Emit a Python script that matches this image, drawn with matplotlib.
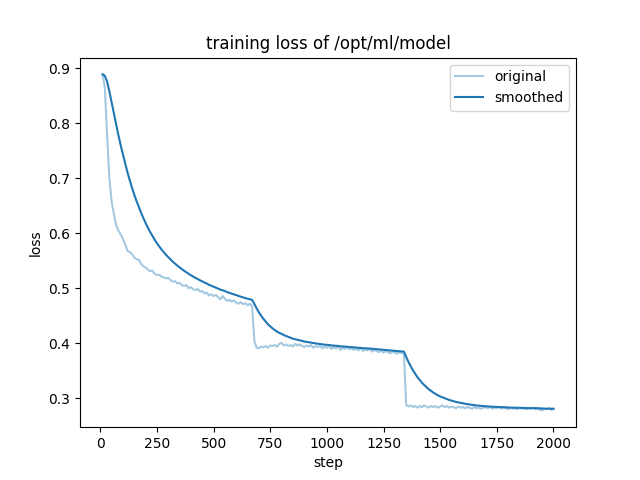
"""
Training loss curve with an EMA-smoothed overlay.
"""

import math

import matplotlib
matplotlib.use("Agg")
import matplotlib.pyplot as plt

MODEL_DIR = "/opt/ml/model"

# logged every 10 steps
steps = list(range(10, 2001, 10))

# ── epoch 1 (steps 10-680) ───────────────────────────────────────────────────
loss_epoch1 = [
    0.889, 0.865, 0.780, 0.700, 0.658, 0.635, 0.615, 0.605, 0.598, 0.590,
    0.580, 0.568, 0.566, 0.562, 0.556, 0.553, 0.552, 0.545, 0.540, 0.538,
    0.534, 0.531, 0.532, 0.526, 0.524, 0.525, 0.521, 0.520, 0.518, 0.519,
    0.515, 0.512, 0.513, 0.509, 0.510, 0.506, 0.504, 0.506, 0.500, 0.502,
    0.498, 0.497, 0.499, 0.494, 0.495, 0.491, 0.492, 0.487, 0.489, 0.486,
    0.488, 0.484, 0.480, 0.486, 0.481, 0.477, 0.479, 0.476, 0.478, 0.474,
    0.472, 0.475, 0.471, 0.473, 0.469, 0.472, 0.468, 0.405,
]

# ── epoch 2 (steps 690-1340) ─────────────────────────────────────────────────
loss_epoch2 = [
    0.392, 0.391, 0.394, 0.393, 0.395, 0.392, 0.396, 0.395, 0.397, 0.394,
    0.399, 0.401, 0.396, 0.398, 0.395, 0.397, 0.394, 0.399, 0.396, 0.398,
    0.395, 0.393, 0.396, 0.394, 0.397, 0.392, 0.395, 0.393, 0.396, 0.391,
    0.394, 0.392, 0.395, 0.390, 0.393, 0.391, 0.394, 0.388, 0.392, 0.390,
    0.393, 0.389, 0.391, 0.388, 0.390, 0.387, 0.391, 0.386, 0.389, 0.387,
    0.390, 0.385, 0.388, 0.386, 0.384, 0.387, 0.383, 0.386, 0.384, 0.382,
    0.385, 0.383, 0.381, 0.384, 0.382, 0.382,
]

# ── epoch 3 (steps 1350-2000) ────────────────────────────────────────────────
loss_epoch3 = [
    0.288, 0.285, 0.287, 0.284, 0.286, 0.283, 0.286, 0.284, 0.287, 0.285,
    0.283, 0.286, 0.284, 0.286, 0.283, 0.285, 0.287, 0.284, 0.286, 0.283,
    0.285, 0.284, 0.282, 0.285, 0.283, 0.284, 0.282, 0.284, 0.283, 0.281,
    0.284, 0.282, 0.283, 0.281, 0.283, 0.284, 0.282, 0.284, 0.281, 0.283,
    0.282, 0.284, 0.281, 0.283, 0.282, 0.280, 0.283, 0.281, 0.282, 0.280,
    0.283, 0.281, 0.282, 0.280, 0.282, 0.281, 0.283, 0.280, 0.282, 0.279,
    0.278, 0.281, 0.280, 0.282, 0.279, 0.281,
]

losses = loss_epoch1 + loss_epoch2 + loss_epoch3


def smooth(scalars):
    """EMA smoothing, weight grows with the number of logged points."""
    if not scalars:
        return []
    weight = 1.8 * (1 / (1 + math.exp(-0.05 * len(scalars))) - 0.5)
    last = scalars[0]
    out = []
    for v in scalars:
        last = last * weight + (1 - weight) * v
        out.append(last)
    return out


fig = plt.figure(figsize=(6.4, 4.8), dpi=100)
plt.plot(steps, losses, color="#1f77b4", alpha=0.4, label="original")
plt.plot(steps, smooth(losses), color="#1f77b4", label="smoothed")
plt.title(f"training loss of {MODEL_DIR}")
plt.xlabel("step")
plt.ylabel("loss")
plt.legend()
plt.savefig("out.png", dpi=100)
plt.close()
